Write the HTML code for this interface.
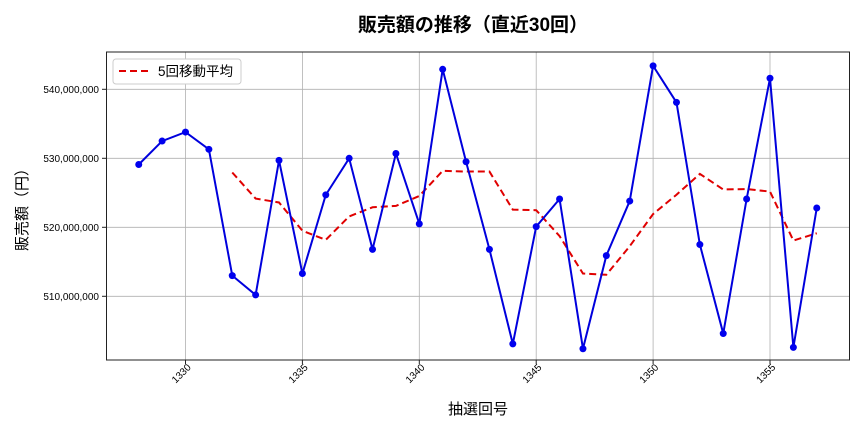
<!DOCTYPE html>
<html><head><meta charset="utf-8"><style>
body{margin:0;background:#fff;font-family:"Liberation Sans","Noto Sans CJK JP",sans-serif}
</style></head><body>
<svg id="s" width="864" height="432" xmlns="http://www.w3.org/2000/svg" font-family="Liberation Sans, Noto Sans CJK JP, sans-serif">
<rect width="864" height="432" fill="#fff"/>
<g id="grid" stroke="#b0b0b0" stroke-width="0.8"></g>
<polyline id="ma" fill="none" stroke="#e00000" stroke-width="2" stroke-dasharray="7,4"/>
<polyline id="ln" fill="none" stroke="#0000dd" stroke-width="2"/>
<g id="pts" fill="#0000ee"></g>
<rect x="106.5" y="52" width="743" height="308" fill="none" stroke="#222" stroke-width="1"/>
<g id="lab" font-size="10" fill="#000"></g>
<text x="473" y="31" font-size="19" text-anchor="middle" font-weight="bold">販売額の推移（直近30回）</text>
<text x="478" y="414" font-size="15" text-anchor="middle">抽選回号</text>
<text transform="translate(27,206) rotate(-90)" font-size="15" text-anchor="middle">販売額（円）</text>
<rect x="113" y="59" width="128" height="25" rx="3" fill="#fff" stroke="#ccc"/>
<line x1="119" y1="71" x2="149" y2="71" stroke="#e00000" stroke-width="2" stroke-dasharray="7,4"/>
<text x="158" y="76" font-size="13.5">5回移動平均</text>
</svg>
<script>
var v=[529.1,532.5,533.8,531.3,513.0,510.2,529.7,513.3,524.7,530.0,516.8,530.7,520.5,542.9,529.5,516.8,503.1,520.1,524.1,502.4,515.9,523.8,543.4,538.1,517.5,504.6,524.1,541.6,502.6,522.8];
function X(n){return 185.5+(n-1330)*23.38}
function Y(m){return 158.3-(m-530)*6.9}
var ns="http://www.w3.org/2000/svg";
function el(t,a,p){var e=document.createElementNS(ns,t);for(var k in a)e.setAttribute(k,a[k]);document.getElementById(p).appendChild(e);return e}
var p=[],m=[];
for(var i=0;i<30;i++){var x=X(1328+i),y=Y(v[i]);p.push(x+","+y);el("circle",{cx:x,cy:y,r:3.5},"pts");
if(i>=4){var s=0;for(var j=i-4;j<=i;j++)s+=v[j];m.push(x+","+Y(s/5));}}
document.getElementById("ln").setAttribute("points",p.join(" "));
document.getElementById("ma").setAttribute("points",m.join(" "));
for(var n=1330;n<=1355;n+=5){var x=X(n);el("line",{x1:x,y1:52,x2:x,y2:360},"grid");el("line",{x1:x,y1:360,x2:x,y2:364,stroke:"#222"},"lab");
var tx=x+6,ty=368;var t=el("text",{x:tx,y:ty,"text-anchor":"end",transform:"rotate(-45 "+tx+" "+ty+")"},"lab");t.textContent=n;}
for(var k=510;k<=540;k+=10){var y=Y(k);el("line",{x1:106.5,y1:y,x2:849.5,y2:y},"grid");el("line",{x1:102,y1:y,x2:106.5,y2:y,stroke:"#222"},"lab");
var t=el("text",{x:99,y:y+3.5,"text-anchor":"end"},"lab");t.textContent=k+",000,000";}
</script>
</body></html>
